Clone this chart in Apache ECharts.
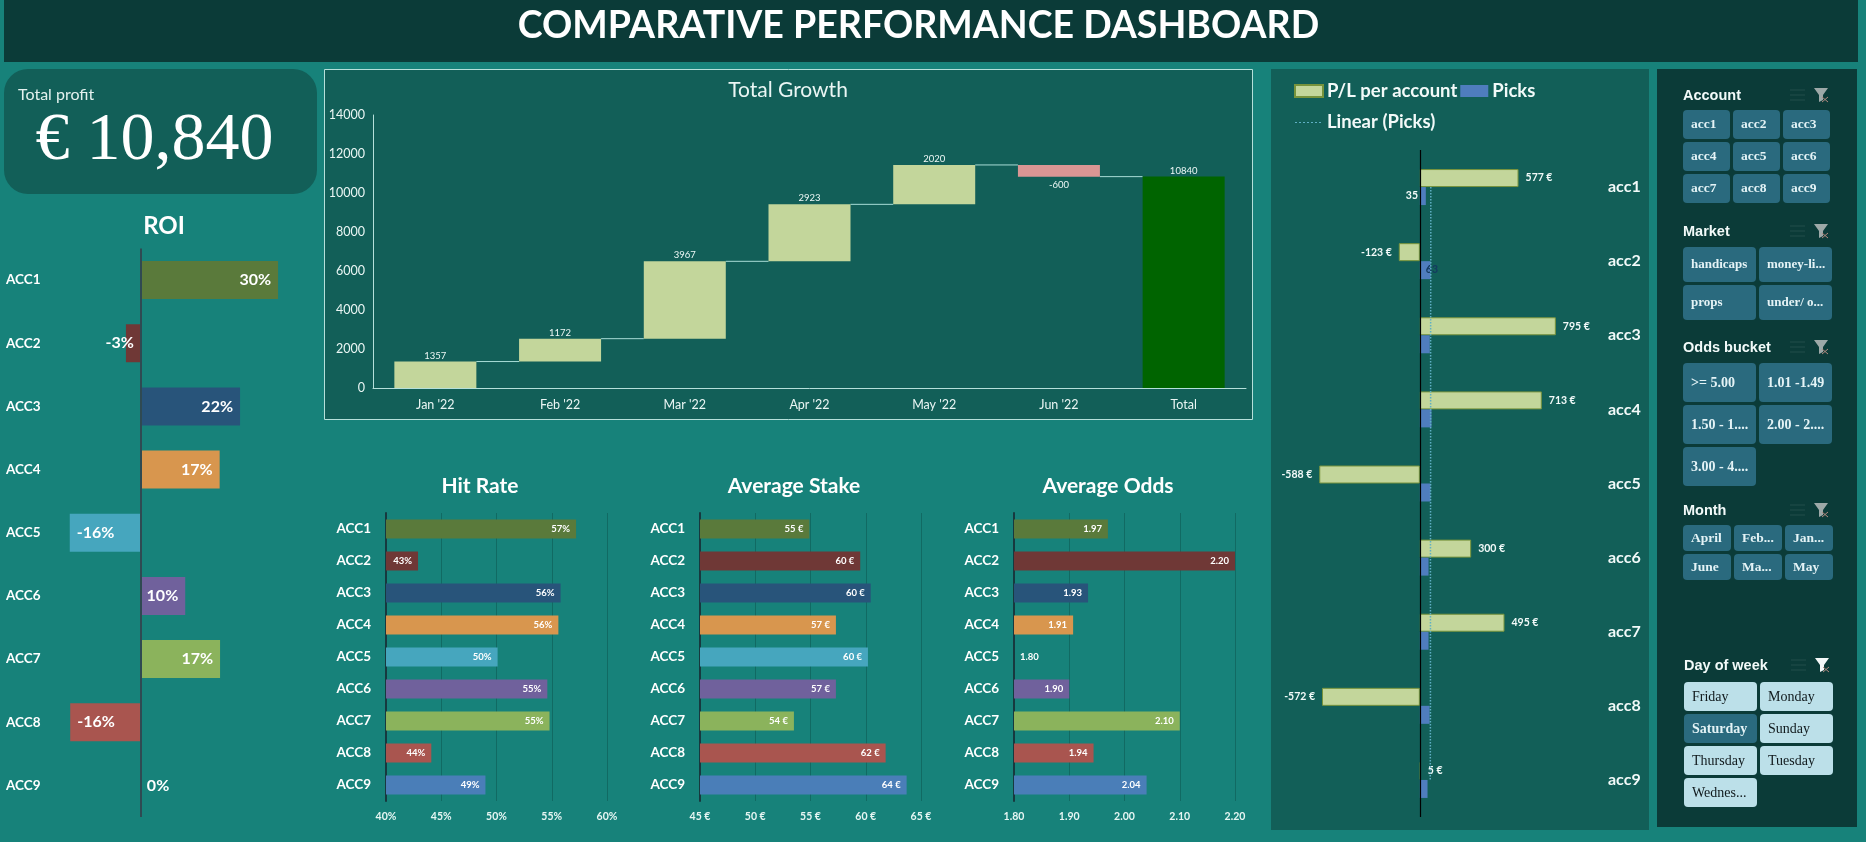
<!DOCTYPE html>
<html><head><meta charset="utf-8"><title>Comparative Performance Dashboard</title>
<style>html,body{margin:0;padding:0;background:#17827A;overflow:hidden}#c{width:1866px;height:842px}</style>
<script src="https://cdn.jsdelivr.net/npm/echarts@6/dist/echarts.min.js"></script></head>
<body><div id="c"></div>
<script>
const accounts=['ACC1','ACC2','ACC3','ACC4','ACC5','ACC6','ACC7','ACC8','ACC9'];
const accountsLower=['acc1','acc2','acc3','acc4','acc5','acc6','acc7','acc8','acc9'];
const accountColors=['#5A7A3B','#6F3836','#28547A','#D8964E','#46A6BE','#70619C','#8BB35C','#A9554F','#4A7EB8'];
const roi=[30.3,-3.3,21.9,17.4,-15.7,9.8,17.49,-15.6,0];
const hitRate=[57.2,42.9,55.8,55.6,50.1,54.6,54.8,44.1,49];
const avgStake=[54.9,59.5,60.45,57.3,60.2,57.3,53.5,61.8,63.7];
const avgOdds=[1.97,2.20,1.934,1.907,1.80,1.90,2.10,1.944,2.04];
const months=["Jan '22","Feb '22","Mar '22","Apr '22","May '22","Jun '22","Total"];
const growth=[1357,1172,3967,2923,2020,-600];
const growthTotal=10840;
const plPerAccount=[577,-123,795,713,-588,300,495,-572,5];
const picks=[35,63,58,68,62,51,51,57,45];
const picksTrend=[64,64,63,63,63,62,62,62,61];
const sliceAccount=['acc1','acc2','acc3','acc4','acc5','acc6','acc7','acc8','acc9'];
const sliceMarket=['handicaps','money-li...','props','under/ o...'];
const sliceOdds=['>= 5.00','1.01 -1.49','1.50 - 1....','2.00 - 2....','3.00 - 4....'];
const sliceMonth=['April','Feb...','Jan...','June','Ma...','May'];
const sliceDay=['Friday','Monday','Saturday','Sunday','Thursday','Tuesday','Wednes...'];
const sliceDaySelected=['Saturday'];

const TEAL='#17827A',PANEL='#125F58',DARK='#0B3B38',WHITE='#FFFFFF',SOFT='#E6F6F3';
const LATO='Lato, "Noto Sans", sans-serif';

/* ---------- waterfall helpers ---------- */
let run=0;const wfBase=[],wfSize=[],wfLevels=[];
growth.forEach(v=>{const next=run+v;wfBase.push(Math.min(run,next));wfSize.push(Math.abs(v));wfLevels.push(next);run=next;});
wfBase.push(0);wfSize.push(growthTotal);

/* ---------- static decoration built with ECharts graphic ---------- */
const g=[];
const rect=(x,y,w,h,fill,r,stroke,z)=>g.push({type:'rect',z:z||0,silent:true,shape:{x,y,width:w,height:h,r:r||0},style:{fill,stroke:stroke||null,lineWidth:stroke?1:0}});
const txt=(x,y,text,font,fill,align)=>g.push({type:'text',z:3,silent:true,style:{x,y,text,font,fill,align:align||'left',verticalAlign:'middle'}});
rect(0,0,1866,842,TEAL);
rect(4,0,1854,62,DARK);
rect(4,69,313,125,PANEL,24);
rect(324.5,69.5,928,350,PANEL,0,'#B5E0DA');
rect(1271,69,378,761,PANEL);
rect(1657,69,200,758,DARK);
txt(18,95,'Total profit','400 16px '+LATO,'#E4F2EF');
txt(35.5,141.5,'€ 10,840','400 68px "Liberation Serif", serif',WHITE);

function icons(x,y,col){
  [-5,0,5].forEach(d=>g.push({type:'line',z:2,silent:true,shape:{x1:x-25,y1:y+d,x2:x-10,y2:y+d},style:{stroke:'#234F4B',lineWidth:1}}));
  g.push({type:'polygon',z:2,silent:true,shape:{points:[[x-1,y-7],[x+13,y-7],[x+8,y],[x+8,y+5],[x+4,y+7],[x+4,y]]},style:{fill:col}});
  g.push({type:'line',z:2,silent:true,shape:{x1:x+7,y1:y+2,x2:x+13,y2:y+7},style:{stroke:'#B08A80',lineWidth:1}});
  g.push({type:'line',z:2,silent:true,shape:{x1:x+13,y1:y+2,x2:x+7,y2:y+7},style:{stroke:'#B08A80',lineWidth:1}});
}
function slicer(title,items,o){
  txt(o.x,o.hy+1,title,'700 14.5px "Liberation Sans", Arial, sans-serif','#F2FAF9');
  icons(o.x+132,o.hy,o.light?'#F4F8F8':'#9DA9A8');
  items.forEach((t,i)=>{
    const c=i%o.cols,r=Math.floor(i/o.cols);
    const bx=o.x+c*o.dx,by=o.y+r*o.dy;
    const on=!o.light||(o.sel||[]).includes(t);
    rect(bx,by,o.w,o.h,on?'#2A6A7E':'#BCE0E9',4,null,1);
    txt(bx+8,by+o.h/2+0.5,t,(on?'700 ':'400 ')+o.fs+'px "Liberation Serif", serif',on?'#E4F3F6':'#10191C');
  });
}
slicer('Account',sliceAccount,{x:1683,hy:95,y:110,cols:3,w:47,h:29,dx:50,dy:32,fs:13.5});
slicer('Market',sliceMarket,{x:1683,hy:231,y:247,cols:2,w:73,h:35,dx:76,dy:38,fs:13});
slicer('Odds bucket',sliceOdds,{x:1683,hy:347,y:363,cols:2,w:73,h:39,dx:76,dy:42,fs:14});
slicer('Month',sliceMonth,{x:1683,hy:510,y:525,cols:3,w:48,h:26,dx:51,dy:29,fs:13.5});
slicer('Day of week',sliceDay,{x:1684,hy:665,y:682,cols:2,w:73,h:29,dx:76,dy:32,fs:14,light:true,sel:sliceDaySelected});

/* ---------- chart helpers ---------- */
const catY=(gi,data)=>({gridIndex:gi,type:'category',inverse:true,data,axisTick:{show:false},
  axisLine:{show:true,lineStyle:{color:'#17393F',width:2}},
  axisLabel:{color:WHITE,fontFamily:LATO,fontWeight:700,fontSize:13.5,margin:15}});
function kpiGrid(gi,min,max,interval,fmt){
  return {gridIndex:gi,type:'value',min,max,interval,axisLine:{show:false},axisTick:{show:false},
    splitLine:{show:true,lineStyle:{color:'#116A63',width:1}},
    axisLabel:{color:SOFT,fontFamily:LATO,fontWeight:700,fontSize:10.5,margin:10,formatter:fmt,hideOverlap:false,showMinLabel:true,showMaxLabel:true}};
}
function kpiSeries(gi,values,fmt,isZero){
  return {type:'bar',xAxisIndex:gi,yAxisIndex:gi,barWidth:19,silent:true,z:3,
    data:values.map((v,i)=>({value:v,itemStyle:{color:accountColors[i]},
      label:{position:isZero(v)?'right':'insideRight',distance:6}})),
    label:{show:true,color:WHITE,fontFamily:LATO,fontWeight:700,fontSize:9.5,formatter:p=>fmt(p.value)}};
}
const pct=v=>Math.round(v)+'%',eur=v=>Math.round(v)+' €',odd=v=>v.toFixed(2);
const titleStyle=(size,weight)=>({color:WHITE,fontFamily:LATO,fontWeight:weight||700,fontSize:size});
const dottedIcon='path://M0 0L0.01 0ZM28 12L27.99 12ZM0 6h2v1h-2zM4 6h2v1h-2zM8 6h2v1h-2zM12 6h2v1h-2zM16 6h2v1h-2zM20 6h2v1h-2zM24 6h2v1h-2z';

const option={
  animation:false,backgroundColor:TEAL,graphic:{elements:g},
  title:[
    {text:'COMPARATIVE PERFORMANCE DASHBOARD',left:918.5,top:3,padding:0,textAlign:'center',textStyle:Object.assign(titleStyle(37.5),{lineHeight:46})},
    {text:'ROI',left:164,top:214.5,padding:0,textAlign:'center',textStyle:titleStyle(24)},
    {text:'Total Growth',left:788,top:80,padding:0,textAlign:'center',textStyle:Object.assign(titleStyle(21,400),{color:'#EAF6F4'})},
    {text:'Hit Rate',left:480,top:475.5,padding:0,textAlign:'center',textStyle:titleStyle(21)},
    {text:'Average Stake',left:794,top:475.5,padding:0,textAlign:'center',textStyle:titleStyle(21)},
    {text:'Average Odds',left:1108,top:475.5,padding:0,textAlign:'center',textStyle:titleStyle(21)}
  ],
  legend:{left:1289,top:72,width:285,itemWidth:28,itemHeight:12,itemGap:3,selectedMode:false,
    data:[{name:'P/L per account',icon:'rect'},{name:'Picks',icon:'rect'},{name:'Linear (Picks)',icon:dottedIcon}],
    textStyle:{color:'#F2FAF9',fontFamily:LATO,fontWeight:700,fontSize:18.5,lineHeight:28,padding:[0,0,0,-1]}},
  grid:[
    {left:5,top:248.5,width:317,height:568.5},
    {left:373,top:115,width:873,height:273},
    {left:386,top:513,width:221,height:288},
    {left:700,top:513,width:221,height:288},
    {left:1014,top:513,width:221,height:288},
    {left:1283,top:150,width:325,height:667}
  ],
  xAxis:[
    {gridIndex:0,type:'value',min:-30,max:40,show:false},
    {gridIndex:1,type:'category',data:months,axisTick:{show:false},axisLine:{lineStyle:{color:'#B5E0DA',width:1}},
      axisLabel:{color:'#EAF6F4',fontFamily:LATO,fontSize:12.5,margin:10}},
    kpiGrid(2,40,60,5,v=>v+'%'),
    kpiGrid(3,45,65,5,v=>v+' €'),
    kpiGrid(4,1.8,2.2,0.1,v=>v.toFixed(2)),
    {gridIndex:5,type:'value',min:-800,max:1100,show:false}
  ],
  yAxis:[
    {gridIndex:0,type:'category',inverse:true,data:accounts,axisTick:{show:false},axisLine:{show:false},
      axisLabel:{color:WHITE,fontFamily:LATO,fontWeight:700,fontSize:13.5,align:'left',margin:-1}},
    {gridIndex:1,type:'value',min:0,max:14000,interval:2000,splitLine:{show:false},axisTick:{show:false},
      axisLine:{show:true,lineStyle:{color:'#B5E0DA',width:1}},
      axisLabel:{color:'#EAF6F4',fontFamily:LATO,fontSize:12.5,margin:8,padding:[3,0,0,0],formatter:v=>String(v)}},
    catY(2,accounts),catY(3,accounts),catY(4,accounts),
    {gridIndex:5,type:'category',inverse:true,data:accountsLower,position:'right',axisTick:{show:false},axisLine:{show:false},
      axisLabel:{color:'#F2FAF9',fontFamily:LATO,fontWeight:700,fontSize:16,align:'left',margin:0}}
  ],
  series:[
    {type:'bar',xAxisIndex:0,yAxisIndex:0,barWidth:38,silent:true,z:3,
      data:roi.map((v,i)=>({value:v,itemStyle:{color:accountColors[i]},
        label:{position:v===0?'right':(v>0?'insideRight':(v>-10?'insideRight':'insideLeft')),distance:v===0?6:7}})),
      label:{show:true,color:WHITE,fontFamily:LATO,fontWeight:700,fontSize:16,formatter:p=>Math.round(p.value)+'%'},
      markLine:{silent:true,symbol:'none',label:{show:false},lineStyle:{color:'#2F4A52',width:2,type:'solid'},data:[{xAxis:0}]}},
    {type:'bar',xAxisIndex:1,yAxisIndex:1,stack:'wf',barWidth:82,silent:true,itemStyle:{color:'transparent'},data:wfBase},
    {type:'bar',xAxisIndex:1,yAxisIndex:1,stack:'wf',barWidth:82,silent:true,z:3,
      data:wfSize.map((v,i)=>{
        const total=i===growth.length,neg=!total&&growth[i]<0;
        return {value:v,itemStyle:{color:total?'#006400':(neg?'#D99694':'#C3D69B')},label:{position:neg?'bottom':'top',distance:neg?3:1}};
      }),
      label:{show:true,color:'#EEF8F6',fontFamily:LATO,fontSize:9.5,
        formatter:p=>p.dataIndex===growth.length?String(growthTotal):String(growth[p.dataIndex])}},
    {type:'custom',xAxisIndex:1,yAxisIndex:1,silent:true,z:2,encode:{x:0,y:1},
      data:wfLevels.map((v,i)=>[i,v]),
      renderItem:(params,api)=>{
        const p=api.coord([api.value(0),api.value(1)]);
        const band=api.size([1,0])[0];
        return {type:'line',shape:{x1:p[0]+41,y1:p[1],x2:p[0]+band-41,y2:p[1]},style:{stroke:'#A8DCD6',lineWidth:1}};
      }},
    kpiSeries(2,hitRate,pct,v=>v<=40),
    kpiSeries(3,avgStake,eur,v=>v<=45),
    kpiSeries(4,avgOdds,odd,v=>v<=1.8),
    {name:'P/L per account',type:'bar',xAxisIndex:5,yAxisIndex:5,barWidth:18,barGap:'0%',silent:true,z:3,
      itemStyle:{color:'#C3D69B',borderColor:'#77933C',borderWidth:1},
      data:plPerAccount.map(v=>({value:v,label:{position:v<0?'left':'right',distance:7}})),
      label:{show:true,color:'#F2FAF9',fontFamily:LATO,fontWeight:700,fontSize:10.5,formatter:p=>p.value+' €'},
      markLine:{silent:true,symbol:'none',label:{show:false},lineStyle:{color:'#000000',width:1.2,type:'solid'},data:[{xAxis:0}]}},
    {name:'Picks',type:'bar',xAxisIndex:5,yAxisIndex:5,barWidth:18,barGap:'0%',silent:true,z:3,
      itemStyle:{color:'#4F7DBE'},
      data:picks.map((v,i)=>{
        if(i===0) return {value:v,label:{show:true,position:[-14,3],color:'#F2FAF9',fontSize:10.5,fontWeight:700,fontFamily:LATO,formatter:'{c}'}};
        if(i===1) return {value:v,label:{show:true,position:[6,3],color:'#143A60',fontSize:10.5,fontWeight:700,fontFamily:LATO,formatter:'{c}'}};
        return {value:v};
      }),
      label:{show:false}},
    {name:'Linear (Picks)',type:'line',xAxisIndex:5,yAxisIndex:5,silent:true,z:4,symbol:'none',
      lineStyle:{color:'#5FAFC4',width:1.5,type:'dotted'},itemStyle:{color:'#5FAFC4'},data:picksTrend}
  ]
};
const chart=echarts.init(document.getElementById('c'),null,{renderer:'canvas'});
chart.setOption(option);
</script></body></html>
